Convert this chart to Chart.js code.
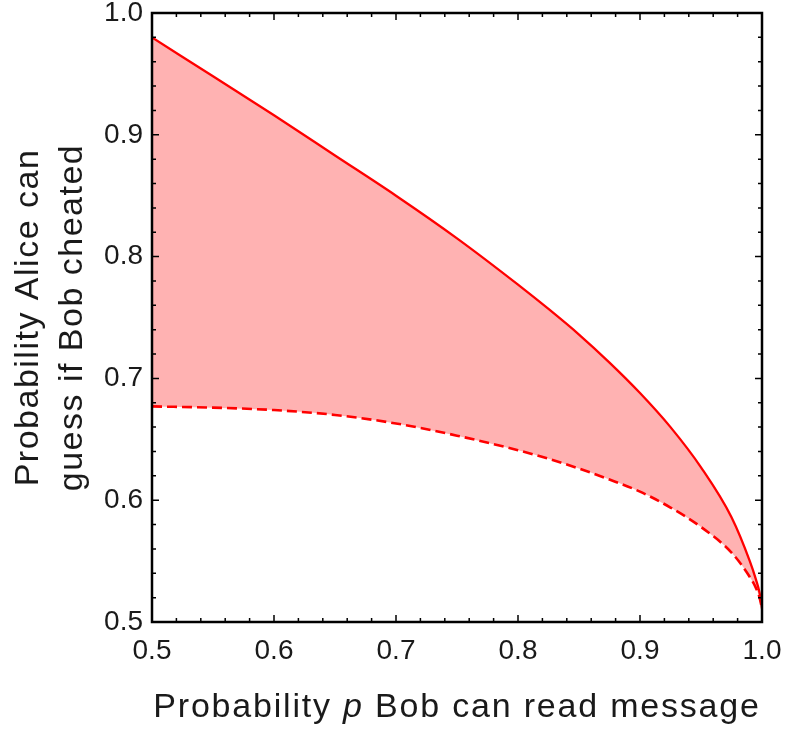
<!DOCTYPE html>
<html>
<head>
<meta charset="utf-8">
<script src="https://cdn.jsdelivr.net/npm/chart.js@4/dist/chart.umd.min.js"></script>
<style>
  html, body { margin: 0; padding: 0; background: #fff; }
  #wrap { width: 785px; height: 730px; }
</style>
</head>
<body>
<div id="wrap"><canvas id="boundsChart" width="785" height="730"></canvas></div>
<script>
// probability p that Bob can read the message
const pValues = [0.5, 0.55, 0.6, 0.65, 0.7, 0.75, 0.8, 0.825, 0.85, 0.875, 0.9, 0.925, 0.95, 0.975, 0.99, 0.995, 0.998, 1.0];
// upper bound (solid) and lower bound (dashed)
const upperValues = [0.980, 0.948, 0.916, 0.883, 0.850, 0.815, 0.777, 0.757, 0.736, 0.713, 0.688, 0.660, 0.627, 0.586, 0.550, 0.535, 0.524, 0.511];
const lowerValues = [0.677, 0.676, 0.674, 0.670, 0.663, 0.653, 0.641, 0.634, 0.626, 0.617, 0.607, 0.594, 0.578, 0.557, 0.537, 0.528, 0.520, 0.511];
const tickValues = [0.5, 0.6, 0.7, 0.8, 0.9, 1.0];
const xTitle = ['Probability ', 'p', ' Bob can read message'];
const yTitle = ['Probability Alice can', 'guess if Bob cheated'];

const FONT = "'Liberation Sans', Helvetica, Arial, sans-serif";
const TEXT = '#1a1a1a';

const upperPoints = pValues.map((p, i) => ({ x: p, y: upperValues[i] }));
const lowerPoints = pValues.map((p, i) => ({ x: p, y: lowerValues[i] }));

// frame + inward ticks on all four sides, plus both axis titles
const framePlugin = {
    id: 'frame',
    afterDatasetsDraw(chart) {
        const { ctx, chartArea: a, scales } = chart;
        const xs = scales.x, ys = scales.y;
        ctx.save();
        ctx.strokeStyle = '#000';
        ctx.lineWidth = 1.5;
        for (let i = 0; i <= 25; i++) {
            const v = 0.5 + i * 0.02;
            const len = i % 5 === 0 ? 7 : 4;
            const px = xs.getPixelForValue(v);
            const py = ys.getPixelForValue(v);
            ctx.beginPath();
            ctx.moveTo(px, a.bottom); ctx.lineTo(px, a.bottom - len);
            ctx.moveTo(px, a.top); ctx.lineTo(px, a.top + len);
            ctx.moveTo(a.left, py); ctx.lineTo(a.left + len, py);
            ctx.moveTo(a.right, py); ctx.lineTo(a.right - len, py);
            ctx.stroke();
        }
        ctx.lineWidth = 2.5;
        ctx.strokeRect(a.left, a.top, a.right - a.left, a.bottom - a.top);

        ctx.fillStyle = TEXT;
        ctx.textBaseline = 'alphabetic';
        if ('letterSpacing' in ctx) ctx.letterSpacing = '1.8px';

        // x axis title, "p" in italics
        const parts = xTitle.map((t, i) => ({ t, f: (i === 1 ? 'italic ' : '') + `34px ${FONT}` }));
        let total = 0;
        parts.forEach(s => { ctx.font = s.f; s.w = ctx.measureText(s.t).width; total += s.w; });
        let x = (a.left + a.right) / 2 - total / 2;
        ctx.textAlign = 'left';
        parts.forEach(s => { ctx.font = s.f; ctx.fillText(s.t, x, 717); x += s.w; });

        // y axis title, two lines, rotated
        if ('letterSpacing' in ctx) ctx.letterSpacing = '1.5px';
        ctx.font = `34px ${FONT}`;
        ctx.textAlign = 'center';
        ctx.translate(0, (a.top + a.bottom) / 2);
        ctx.rotate(-Math.PI / 2);
        ctx.fillText(yTitle[0], 0, 38);
        ctx.fillText(yTitle[1], 0, 82);
        ctx.restore();
    }
};

new Chart(document.getElementById('boundsChart').getContext('2d'), {
    type: 'scatter',
    data: {
        datasets: [{
            label: 'upper',
            data: upperPoints,
            showLine: true,
            borderColor: '#ff0000',
            borderWidth: 2.3,
            pointRadius: 0,
            cubicInterpolationMode: 'monotone',
            backgroundColor: 'rgba(255, 0, 0, 0.3)',
            fill: '+1'
        }, {
            label: 'lower',
            data: lowerPoints,
            showLine: true,
            borderColor: '#ff0000',
            borderWidth: 2.6,
            borderDash: [10, 5],
            pointRadius: 0,
            cubicInterpolationMode: 'monotone',
            fill: false
        }]
    },
    options: {
        responsive: false,
        animation: false,
        layout: { padding: { top: 13, right: 23, bottom: 0, left: 0 } },
        plugins: {
            legend: { display: false },
            tooltip: { enabled: false }
        },
        scales: {
            x: {
                type: 'linear',
                min: 0.5,
                max: 1.0,
                afterBuildTicks: s => { s.ticks = tickValues.map(v => ({ value: v })); },
                afterFit: s => { s.height = 108; s.paddingLeft = 0; s.paddingRight = 0; },
                grid: { display: false, drawTicks: false },
                border: { display: false },
                ticks: {
                    padding: 12,
                    color: TEXT,
                    font: { family: FONT, size: 28 },
                    callback: v => v.toFixed(1)
                }
            },
            y: {
                type: 'linear',
                min: 0.5,
                max: 1.0,
                afterBuildTicks: s => { s.ticks = tickValues.map(v => ({ value: v })); },
                afterFit: s => { s.width = 152; s.paddingTop = 0; s.paddingBottom = 0; },
                grid: { display: false, drawTicks: false },
                border: { display: false },
                ticks: {
                    padding: 9,
                    color: TEXT,
                    font: { family: FONT, size: 28 },
                    callback: v => v.toFixed(1)
                }
            }
        }
    },
    plugins: [framePlugin]
});
</script>
</body>
</html>
